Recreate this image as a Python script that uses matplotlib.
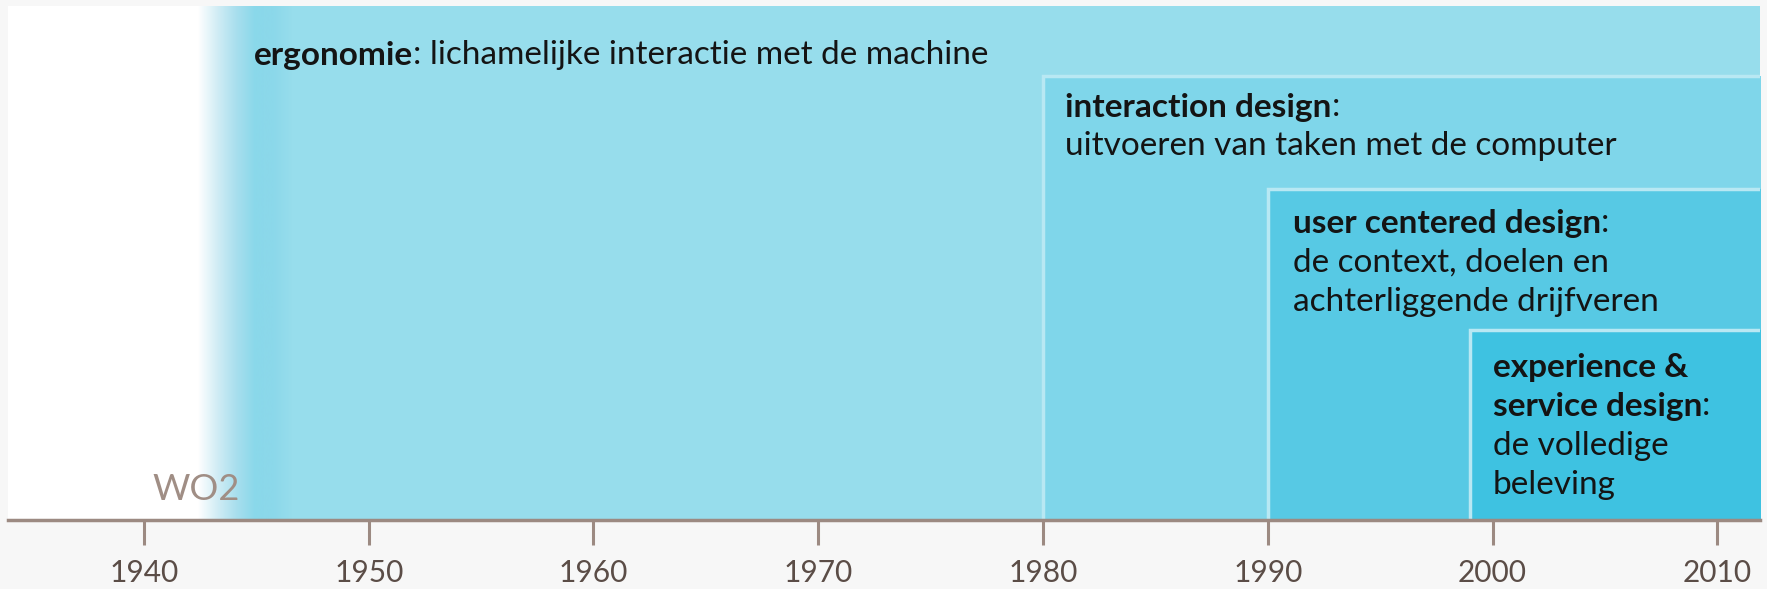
import numpy as np
import matplotlib.pyplot as plt
from matplotlib.colors import LinearSegmentedColormap

plt.rcParams['font.family'] = ['Lato', 'DejaVu Sans']

# eras: start year, title, description lines
era_start = [1980, 1990, 1999]
era_titles = [["interaction design"], ["user centered design"], ["experience &", "service design"]]
era_desc = [["uitvoeren van taken met de computer"],
            ["de context, doelen en", "achterliggende drijfveren"],
            ["de volledige", "beleving"]]
era_colors = ["#7fd6ea", "#57c9e4", "#3ec2e1"]
era_tops = [444, 331, 190]

ergo_start = 1942.4
ergo_full = 1946.6
ergo_title = "ergonomie"
ergo_desc = ": lichamelijke interactie met de machine"
ergo_color = "#97ddec"

years = [1940, 1950, 1960, 1970, 1980, 1990, 2000, 2010]
x_min, x_max = 1933.95, 2011.9
y_top = 514

fig = plt.figure(figsize=(17.67, 5.89), dpi=100)
fig.patch.set_facecolor("#f7f7f7")
ax = fig.add_axes([8 / 1767, 1 - 520 / 589, 1752 / 1767, 514 / 589])
ax.set_facecolor("white")
ax.set_xlim(x_min, x_max)
ax.set_ylim(0, y_top)

# ergonomie background with a soft fade in after WO2
cmap = LinearSegmentedColormap.from_list(
    "fade", ["#ffffff", "#d2edf5", "#a9dfee", "#8ad8ea", "#8cd8ea", ergo_color])
grad = np.linspace(0, 1, 256).reshape(1, -1)
ax.imshow(grad, extent=[ergo_start, ergo_full, 0, y_top], aspect="auto", cmap=cmap, zorder=1)
ax.fill_between([ergo_full, x_max], 0, y_top, color=ergo_color, lw=0, zorder=1)

# nested era boxes
for start, top, col in zip(era_start, era_tops, era_colors):
    ax.fill_between([start, x_max + 1], 0, top, color=col, lw=0, zorder=2)
    ax.plot([start, start, x_max + 1], [0, top, top], color="#b8e8f3", lw=2.5,
            zorder=3, solid_joinstyle="miter")

fs = 24
txt_col = "#141414"


def label_line(x, y, bold, normal):
    t = ax.text(x, y, bold, fontsize=fs, fontweight="bold", color=txt_col,
                va="center", ha="left", zorder=5)
    if normal:
        ax.annotate(normal, xy=(1, 0), xycoords=t, va="bottom", ha="left",
                    fontsize=fs, color=txt_col, zorder=5)
    return t


label_line(1944.9, 464, ergo_title, ergo_desc)

text_x = [1981.0, 1991.1, 2000.0]
line_start = [413, 297, 152.6]
step = 39.3
for tx, y0, titles, desc in zip(text_x, line_start, era_titles, era_desc):
    y = y0
    for i, tl in enumerate(titles):
        label_line(tx, y, tl, ":" if i == len(titles) - 1 else None)
        y -= step
    for d in desc:
        ax.text(tx, y, d, fontsize=fs, color=txt_col, va="center", ha="left", zorder=5)
        y -= step

ax.text(1942.3, 30, "WO2", fontsize=26, color="#a08e85", ha="center", va="center", zorder=5)

# axis
for s in ["top", "right", "left"]:
    ax.spines[s].set_visible(False)
ax.spines["bottom"].set_color("#9c8a82")
ax.spines["bottom"].set_linewidth(2.5)
ax.spines["bottom"].set_zorder(6)
ax.set_yticks([])
ax.set_xticks(years)
ax.set_xticklabels([str(y) for y in years])
ax.tick_params(axis="x", direction="out", length=18, width=2.2, color="#9c8a82",
               labelsize=21.5, labelcolor="#5b4d47", pad=10)

fig.savefig("out.png", dpi=100, facecolor=fig.get_facecolor())
